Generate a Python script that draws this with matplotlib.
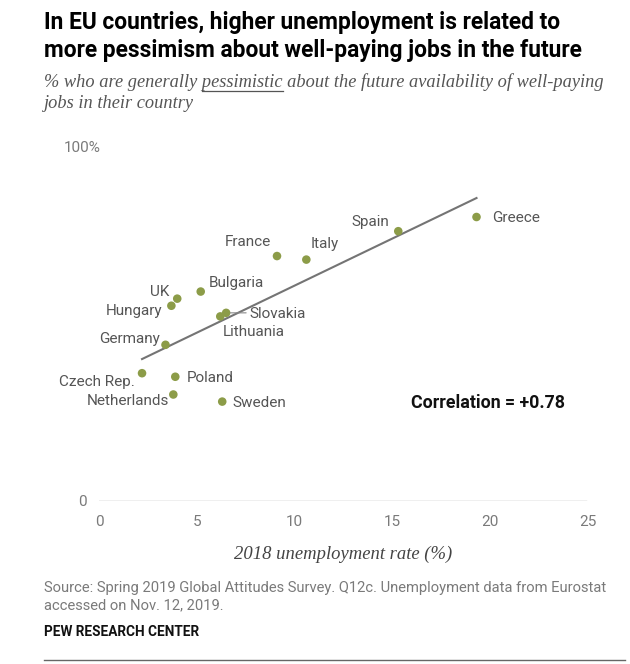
import numpy as np
import matplotlib
matplotlib.use("Agg")
import matplotlib.pyplot as plt
from matplotlib.lines import Line2D

countries = ["Greece", "Spain", "Italy", "France", "Bulgaria", "UK", "Hungary",
             "Slovakia", "Lithuania", "Germany", "Czech Rep.", "Poland",
             "Netherlands", "Sweden"]
unemployment = [19.3, 15.3, 10.6, 9.1, 5.2, 4.0, 3.7, 6.5, 6.2, 3.4, 2.2, 3.9, 3.8, 6.3]
pessimistic = [80, 76, 68, 69, 59, 57, 55, 53, 52, 44, 36, 35, 30, 28]
x_ticks = [0, 5, 10, 15, 20, 25]
y_ticks = [0, 100]
y_ticklabels = ["0", "100%"]

# label placement (offset in pixels, alignment)
label_pos = {
    "Greece": (16, -1, "left"),
    "Spain": (-9, 9, "right"),
    "Italy": (4, 16, "left"),
    "France": (-6, 14, "right"),
    "Bulgaria": (8, 9, "left"),
    "UK": (-8, 7, "right"),
    "Hungary": (-9, -5, "right"),
    "Slovakia": (23, -1, "left"),
    "Lithuania": (2, -16, "left"),
    "Germany": (-6, 6, "right"),
    "Czech Rep.": (-7, -9, "right"),
    "Poland": (11, -1, "left"),
    "Netherlands": (-4, -7, "right"),
    "Sweden": (10, -1, "left"),
}

W, H = 630, 664
fig = plt.figure(figsize=(W / 100, H / 100), dpi=100)
fig.patch.set_facecolor("white")

ax_l, ax_r = 99 / W, 588 / W
ax_b, ax_t = 1 - 501 / H, 1 - 146 / H
ax = fig.add_axes([ax_l, ax_b, ax_r - ax_l, ax_t - ax_b])
ax.set_xlim(0, 25)
ax.set_ylim(0, 100)
for s in ax.spines.values():
    s.set_visible(False)
ax.axhline(0, xmin=0, xmax=0.995, color="#b0b0b0", lw=1.0, zorder=0)

sans = ["Roboto", "DejaVu Sans"]
serif = ["Liberation Serif", "DejaVu Serif"]
label_color = "#555555"

ax.set_xticks(x_ticks)
ax.set_xticklabels([str(t) for t in x_ticks], fontsize=11, color="#7a7a7a", family=sans)
ax.set_yticks(y_ticks)
ax.set_yticklabels(y_ticklabels, fontsize=11, color="#7a7a7a", family=sans)
for lbl in ax.get_yticklabels():
    lbl.set_horizontalalignment("center")
ax.tick_params(axis="x", length=0, pad=10)
ax.tick_params(axis="y", length=0, pad=12)

# regression line
xs = np.array(unemployment)
ys = np.array(pessimistic)
m, b = np.polyfit(xs, ys, 1)
xl = np.array([xs.min(), xs.max()])
ax.plot(xl, m * xl + b, color="#747474", lw=1.5, zorder=2)

ax.scatter(unemployment, pessimistic, s=38, color="#8c9c48", edgecolors="none", zorder=3)

for c, x, y in zip(countries, unemployment, pessimistic):
    dx, dy, ha = label_pos[c]
    ax.annotate(c, (x, y), xytext=(dx, dy), textcoords="offset pixels",
                ha=ha, va="center", fontsize=11, color=label_color, family=sans)

# leader line for Slovakia
i = countries.index("Slovakia")
ax.annotate("", (unemployment[i], pessimistic[i]), xytext=(20, 0), textcoords="offset pixels",
            arrowprops=dict(arrowstyle="-", color="#888888", lw=0.8, shrinkA=0, shrinkB=3))

ax.text(0.638, 0.276, "Correlation = +0.78", transform=ax.transAxes, fontsize=12.8,
        fontweight="bold", color="#111111", family=sans, ha="left", va="center")

ax.set_xlabel("2018 unemployment rate (%)", fontsize=13.4, style="italic", color="#444444",
              family=serif, labelpad=12)

# title
def px(x, y):
    return x / W, 1 - y / H

fig.text(*px(44, 22), "In EU countries, higher unemployment is related to", fontsize=16.4,
         fontweight="bold", color="#000000", family=sans, va="center", ha="left")
fig.text(*px(44, 50), "more pessimism about well-paying jobs in the future", fontsize=16.4,
         fontweight="bold", color="#000000", family=sans, va="center", ha="left")

# subtitle with underline
sub_fs = 13.2
sub_col = "#555555"
pre = "% who are generally "
word = "pessimistic"
post = " about the future availability of well-paying"
fig.text(*px(44, 82), pre + word + post, fontsize=sub_fs, style="italic",
         color=sub_col, family=serif, va="center", ha="left")
fig.text(*px(44, 104), "jobs in their country", fontsize=sub_fs, style="italic",
         color=sub_col, family=serif, va="center", ha="left")
renderer = fig.canvas.get_renderer()
t1 = fig.text(*px(44, 82), pre, fontsize=sub_fs, style="italic", family=serif,
              va="center", ha="left", alpha=0)
t2 = fig.text(*px(44, 82), pre + word, fontsize=sub_fs, style="italic", family=serif,
              va="center", ha="left", alpha=0)
x0 = t1.get_window_extent(renderer).x1
x1 = t2.get_window_extent(renderer).x1
yb = H - 91
fig.add_artist(Line2D([x0 / W, x1 / W], [yb / H, yb / H], color=sub_col, lw=0.9))

# source
src_col = "#7a7a7a"
fig.text(*px(44, 588), "Source: Spring 2019 Global Attitudes Survey. Q12c. Unemployment data from Eurostat",
         fontsize=10.6, color=src_col, family=sans, va="center", ha="left")
fig.text(*px(44, 605), "accessed on Nov. 12, 2019.", fontsize=10.6, color=src_col,
         family=sans, va="center", ha="left")
fig.text(*px(44, 632), "PEW RESEARCH CENTER", fontsize=9.8, fontweight="bold",
         color="#111111", family=sans, va="center", ha="left")
fig.add_artist(Line2D([44 / W, 625 / W], [1 - 660 / H, 1 - 660 / H], color="#666666", lw=1.0))

fig.savefig("out.png", dpi=100, facecolor="white")
